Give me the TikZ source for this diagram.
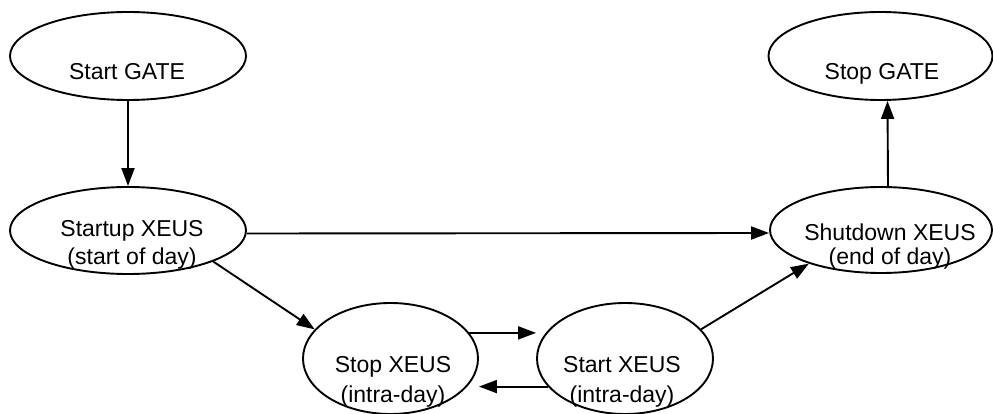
\documentclass[tikz,border=0pt]{standalone}
\usepackage{fontspec}
\setmainfont{Liberation Sans}
\usetikzlibrary{shapes.geometric,arrows.meta}

\begin{document}
\begin{tikzpicture}[x=1pt,y=-1pt,
  state/.style={ellipse, draw, line width=1.9pt, inner sep=0pt},
  caption/.style={inner sep=0pt, align=center,
    font=\fontsize{23}{28}\selectfont},
  flow/.style={line width=1.9pt, -{Triangle[length=18pt,width=13pt]}}]
\useasboundingbox (0,0) rectangle (993,414);

% state outlines
\node[state, minimum width=236pt, minimum height=88pt] (startgate) at (128,56) {};
\node[state, minimum width=236pt, minimum height=87pt] (startup)   at (128,230.5) {};
\node[state, minimum width=224pt, minimum height=88pt] (stopgate)  at (880.5,56) {};
\node[state, minimum width=222pt, minimum height=86pt] (shutdown)  at (881,230) {};
\node[state, minimum width=175pt, minimum height=111pt] (stopx)    at (390.5,358.5) {};
\node[state, minimum width=176pt, minimum height=111pt] (startx)   at (625,358.5) {};

% state texts
\node[caption, anchor=base]  (tstartgate) at (127,80) {Start GATE};
\node[caption, anchor=base]  (tstopgate)  at (882,80) {Stop GATE};
\node[caption, anchor=north] (tstartup)   at (132,220) {Startup XEUS\\(start of day)};
\node[caption, anchor=north] (tshutdown)  at (890,224) {Shutdown XEUS\\[-4pt](end of day)};
\node[caption, anchor=north] (tstopx)     at (393,356) {Stop XEUS\\[2pt](intra-day)};
\node[caption, anchor=north] (tstartx)    at (622,356) {Start XEUS\\[2pt](intra-day)};

% transitions
\draw[flow] (startgate) -- (startup);
\draw[flow] ([yshift=-3pt]startup.east) -- ([yshift=-3pt]shutdown.west);
\draw[flow] (startup.-20) -- (stopx.159);
\draw[flow] (stopx.18) -- (stopx.18 -| startx.west);
\draw[flow] (startx.-160) -- (startx.-160 -| stopx.east);
\draw[flow] (startx.21) -- (shutdown.205);
\draw[flow] ([xshift=7pt]shutdown.north) -- ([xshift=7pt]stopgate.south);
\end{tikzpicture}
\end{document}
